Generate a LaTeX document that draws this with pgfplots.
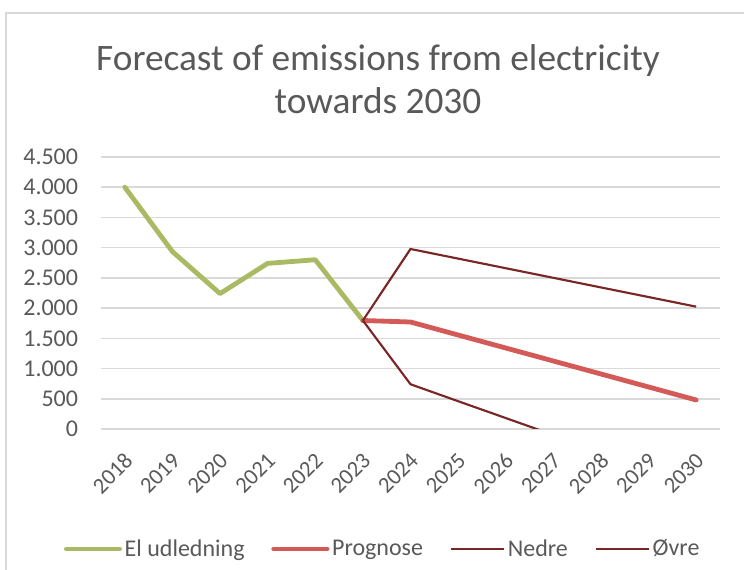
\documentclass[border=0pt]{standalone}
\usepackage{pgfplots}
\pgfplotsset{compat=1.18}
\usepackage{fontspec}
\setmainfont{Carlito}
\definecolor{txt}{HTML}{595959}
\definecolor{gridc}{HTML}{D9D9D9}
\definecolor{cgreen}{HTML}{A9BA62}
\definecolor{cred}{HTML}{D35A57}
\definecolor{cdark}{HTML}{7A2626}
\begin{document}
\begin{tikzpicture}
\useasboundingbox (0,0) rectangle (558pt,427.5pt);
\draw[gridc, line width=1.1pt] (4.5pt,0) -- (4.5pt,417.75pt) -- (558pt,417.75pt);
\node[txt, align=center, font=\fontsize{28}{32}\selectfont] at (283.5pt,368pt) {Forecast of emissions from electricity\\towards 2030};
\begin{axis}[
  scale only axis, width=464.25pt, height=204pt,
  at={(75.75pt,105.75pt)}, anchor=south west,
  xmin=2017.5, xmax=2030.5, ymin=0, ymax=4500,
  xtick={2018,...,2030}, ytick={0,500,...,4500},
  axis line style={draw=none}, tick style={draw=none},
  ymajorgrids, grid style={color=gridc, line width=1.2pt},
  /pgf/number format/assume math mode=true,
  ticklabel style={text=txt, font=\fontsize{18}{20}\selectfont},
  y tick label style={/pgf/number format/1000 sep={.}, inner sep=0pt, xshift=-17pt},
  x tick label style={/pgf/number format/1000 sep={}, inner sep=0pt, xshift=3pt, yshift=-21pt, rotate=45, anchor=east, font=\fontsize{17}{18}\selectfont},
  legend columns=4,
  legend style={draw=none, fill=none, at={(0.4556,-0.441)}, anchor=center, font=\fontsize{18}{20}\selectfont, text=txt,
    /tikz/every even column/.append style={column sep=18pt}},
  legend image code/.code={\draw[#1] plot coordinates {(0pt,0pt) (20pt,0pt) (40pt,0pt)};},
]
\addplot[cgreen, line width=3.6pt, line cap=round, line join=round] coordinates {
(2018,4000) (2019,2935) (2020,2240) (2021,2740) (2022,2800) (2023,1795)};
\addlegendentry{El udledning}
\addplot[cred, line width=3.6pt, line cap=round, line join=round] coordinates {
(2023,1795) (2024,1770) (2025,1555) (2026,1340) (2027,1125) (2028,910) (2029,695) (2030,480)};
\addlegendentry{Prognose}
\addplot[cdark, line width=1.6pt] coordinates {
(2023,1795) (2024,740) (2025,460) (2026,181) (2027,-98) (2028,-377) (2029,-656) (2030,-935)};
\addlegendentry{Nedre}
\addplot[cdark, line width=1.6pt] coordinates {
(2023,1795) (2024,2978) (2025,2819) (2026,2660) (2027,2501) (2028,2342) (2029,2183) (2030,2024)};
\addlegendentry{Øvre}
\end{axis}
\end{tikzpicture}
\end{document}
